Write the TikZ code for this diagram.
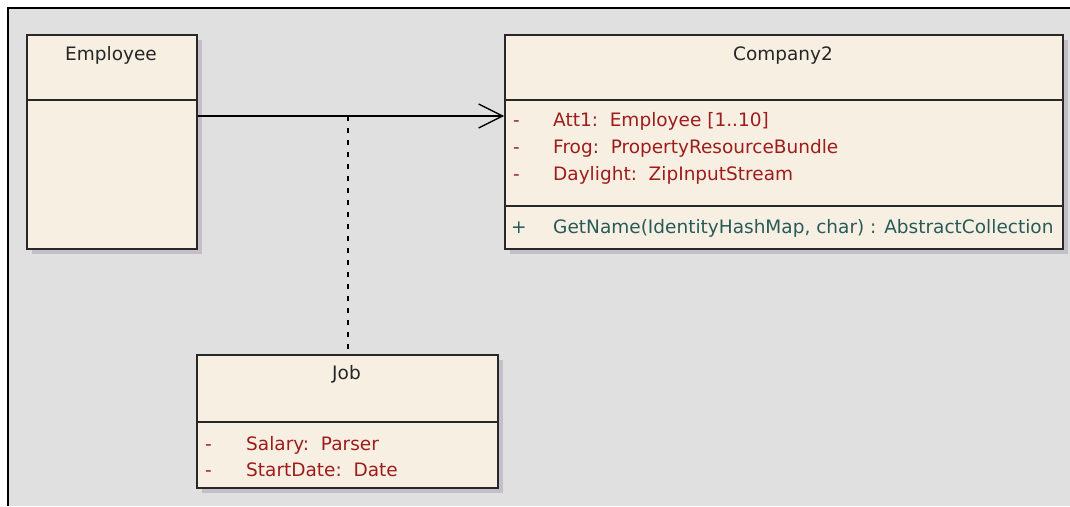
\documentclass[tikz,border=0pt]{standalone}
\usepackage{fontspec}
\setmainfont{DejaVu Sans}
\usetikzlibrary{arrows.meta,shadows}
\definecolor{bggray}{RGB}{224,224,224}
\definecolor{cream}{RGB}{247,240,226}
\definecolor{shade}{RGB}{196,190,201}
\definecolor{attred}{RGB}{158,28,28}
\definecolor{opteal}{RGB}{40,90,90}
\definecolor{edge}{RGB}{40,40,40}

\begin{document}
\begin{tikzpicture}[x=1pt,y=-1pt,
  classbox/.style={draw=edge,line width=1.6pt,fill=cream,anchor=north west,inner sep=0pt,
    drop shadow={shadow xshift=5pt,shadow yshift=-5pt,fill=shade,opacity=1}},
  divider/.style={draw=edge,line width=1.6pt},
  classname/.style={anchor=base,inner sep=0pt,font=\fontsize{18.5}{22}\selectfont,text=black!85},
  attr/.style={anchor=base west,inner sep=0pt,font=\fontsize{18.5}{22}\selectfont,text=attred},
  oper/.style={attr,text=opteal}]
\useasboundingbox (0,0) rectangle (1070,506);
\fill[bggray] (8,8) rectangle (1070,506);
\draw[line width=2pt] (1070,8) -- (8,8) -- (8,506);

% classes
\node[classbox,minimum width=170pt,minimum height=214pt] (emp) at (26,34) {};
\node[classbox,minimum width=558pt,minimum height=214pt] (comp) at (504,34) {};
\node[classbox,minimum width=301pt,minimum height=133pt] (job) at (196,354) {};
\draw[divider] ([yshift=-66pt]emp.north west) -- ([yshift=-66pt]emp.north east);
\draw[divider] ([yshift=-66pt]comp.north west) -- ([yshift=-66pt]comp.north east);
\draw[divider] ([yshift=-172pt]comp.north west) -- ([yshift=-172pt]comp.north east);
\draw[divider] ([yshift=-68pt]job.north west) -- ([yshift=-68pt]job.north east);

\node[classname] (empname) at (111,60) {Employee};
\node[classname] (compname) at (783,60) {Company2};
\node[classname] (jobname) at (346.5,379) {Job};

% attributes and operations
\foreach \t [count=\i] in {{Att1:\ \ Employee [1..10]},{Frog:\ \ PropertyResourceBundle},{Daylight:\ \ ZipInputStream}} {
  \node[attr] (cm\i) at (513,99+27*\i) {-};
  \node[attr] (ca\i) at (553,99+27*\i) {\t};
}
\node[oper] (om) at (511,233) {+};
\node[oper] (op) at (553,233) {GetName(IdentityHashMap, char) : AbstractCollection};
\foreach \t [count=\i] in {{Salary:\ \ Parser},{StartDate:\ \ Date}} {
  \node[attr] (jm\i) at (205,424+26*\i) {-};
  \node[attr] (ja\i) at (246,424+26*\i) {\t};
}

% association and association class
\coordinate (assoc) at (348,116);
\draw[line width=1.3pt,-{Straight Barb[length=24pt,width=24pt]}] (emp.east |- assoc) -- (comp.west |- assoc);
\draw[line width=1.2pt,dash pattern=on 5pt off 7pt] (assoc) -- (job.north -| assoc);
\end{tikzpicture}
\end{document}
